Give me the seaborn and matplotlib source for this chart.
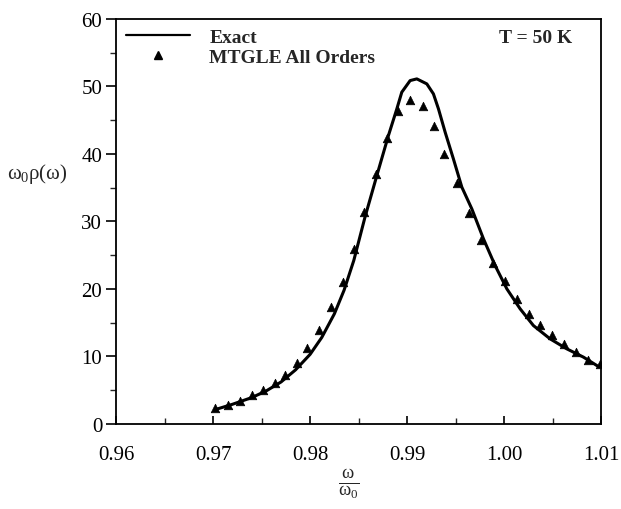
import matplotlib
matplotlib.use("Agg")
import matplotlib.pyplot as plt
import seaborn as sns
import pandas as pd
from matplotlib.ticker import MultipleLocator, FixedFormatter, FixedLocator
from matplotlib.lines import Line2D

# Exact curve
exact_x = [0.9702, 0.9720, 0.9740, 0.9755, 0.9770, 0.9785, 0.9800, 0.9812,
           0.9825, 0.9835, 0.9845, 0.98567, 0.98688, 0.98807, 0.98894, 0.98945,
           0.99031, 0.99100, 0.99203, 0.99271, 0.99323, 0.99392, 0.99477, 0.99564,
           0.99667, 0.99787, 0.99907, 1.00028, 1.00165, 1.00302, 1.00474, 1.00646,
           1.00818, 1.00960]
exact_y = [2.1, 2.9, 3.9, 4.9, 6.2, 8.0, 10.3, 12.8,
           16.3, 19.8, 24.2, 30.7, 36.8, 42.7, 46.67, 49.14,
           50.86, 51.11, 50.37, 48.89, 46.67, 43.21, 39.26, 35.07,
           31.85, 27.41, 23.45, 20.0, 17.04, 14.56, 12.59, 11.11,
           9.88, 8.6]

# MTGLE All Orders (triangles)
mtgle_x = [0.97021, 0.97152, 0.97278, 0.97399, 0.97519, 0.97639, 0.97742, 0.97863,
           0.97972, 0.98093, 0.98213, 0.98343, 0.98457, 0.98560, 0.98680, 0.98791,
           0.98910, 0.99031, 0.99162, 0.99278, 0.99385, 0.99512, 0.99642, 0.99760,
           0.99884, 1.00010, 1.00137, 1.00261, 1.00371, 1.00498, 1.00619, 1.00742,
           1.00869, 1.00990]
mtgle_y = [2.33, 2.81, 3.45, 4.2, 5.04, 6.0, 7.3, 9.0,
           11.2, 13.9, 17.3, 21.0, 25.9, 31.4, 37.0, 42.3,
           46.4, 48.0, 47.1, 44.2, 40.0, 35.7, 31.3, 27.2,
           23.9, 21.1, 18.5, 16.2, 14.6, 13.2, 11.9, 10.6,
           9.4, 8.9]

x_ticks = [0.96, 0.97, 0.98, 0.99, 1.00, 1.01]
x_ticklabels = ["0.96", "0.97", "0.98", "0.99", "1.00", "1.01"]
y_ticks = [0, 10, 20, 30, 40, 50, 60]

sns.set_style("ticks")
plt.rcParams["font.family"] = ["Liberation Serif", "DejaVu Serif"]
plt.rcParams["mathtext.fontset"] = "custom"
plt.rcParams["mathtext.rm"] = "Liberation Serif"
plt.rcParams["mathtext.it"] = "Liberation Serif"
plt.rcParams["mathtext.bf"] = "Liberation Serif:bold"

fig = plt.figure(figsize=(6.21, 5.10), dpi=100)
ax = fig.add_axes([0.187, 0.167, 0.781, 0.794])

df_exact = pd.DataFrame({"x": exact_x, "y": exact_y})
df_mtgle = pd.DataFrame({"x": mtgle_x, "y": mtgle_y})

sns.lineplot(data=df_exact, x="x", y="y", ax=ax, color="black", lw=2.2, sort=False)
sns.scatterplot(data=df_mtgle, x="x", y="y", ax=ax, marker="^", color="black",
                s=38, edgecolor="black", linewidth=0.5, zorder=3)

ax.set_xlim(0.96, 1.01)
ax.set_ylim(0, 60)
ax.xaxis.set_major_locator(FixedLocator(x_ticks))
ax.xaxis.set_major_formatter(FixedFormatter(x_ticklabels))
ax.xaxis.set_minor_locator(MultipleLocator(0.005))
ax.yaxis.set_major_locator(FixedLocator(y_ticks))
ax.yaxis.set_minor_locator(MultipleLocator(5))

ax.tick_params(axis="x", which="major", direction="in", length=6, width=1.2,
               labelsize=15, pad=15, colors="black")
ax.tick_params(axis="x", which="minor", direction="in", length=4, width=1.0)
ax.tick_params(axis="y", which="major", direction="out", length=7, width=1.2,
               labelsize=15, pad=3, colors="black")
ax.tick_params(axis="y", which="minor", direction="out", length=4, width=1.0)

for sp in ax.spines.values():
    sp.set_visible(True)
    sp.set_linewidth(1.3)
    sp.set_color("black")

ax.set_xlabel("")
ax.set_ylabel("")

fig.text(0.011, 0.659, r"$\omega_0\rho(\omega)$", fontsize=15, ha="left", va="center")
fig.text(0.562, 0.05, r"$\frac{\omega}{\omega_0}$", fontsize=19, ha="center", va="center")

handles = [Line2D([], [], color="black", lw=1.6),
           Line2D([], [], color="black", marker="^", ls="none", markersize=6)]
leg = ax.legend(handles, ["Exact", "MTGLE All Orders"], loc="upper left",
                bbox_to_anchor=(0.0, 1.0), frameon=False, handlelength=3.3,
                prop={"family": "Liberation Serif", "weight": "bold", "size": 14},
                labelspacing=0.1, handletextpad=1.0, borderaxespad=0.1)

ax.text(0.94, 0.955, "T = 50 K", transform=ax.transAxes, ha="right", va="center",
        fontsize=14, fontweight="bold")

fig.savefig("out.png", dpi=100)
